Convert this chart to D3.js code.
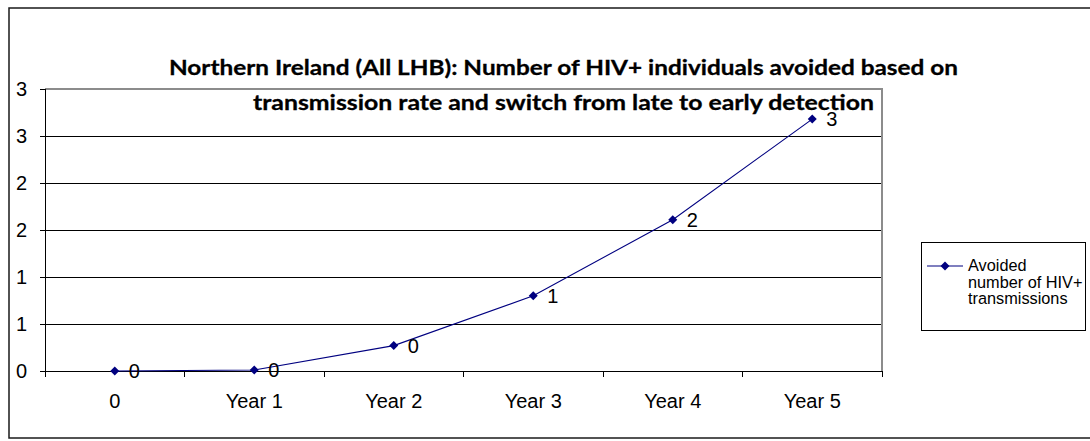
<!DOCTYPE html>
<html>
<head>
<meta charset="utf-8">
<script src="https://cdn.jsdelivr.net/npm/d3@7"></script>
<style>
  body { margin: 0; background: #fff; }
  svg { display: block; }
  .ax text { font-family: "Liberation Sans", Arial, sans-serif; font-size: 20px; fill: #000; }
</style>
</head>
<body>
<div id="chart"></div>
<script>
// ---------- data ----------
const categories = ["0", "Year 1", "Year 2", "Year 3", "Year 4", "Year 5"]
const avoided = [0, 0.01, 0.27, 0.80, 1.61, 2.68]
const yTicks = [0, 0.5, 1, 1.5, 2, 2.5, 3]
const yTickLabels = ["0", "1", "1", "2", "2", "3", "3"]
const titleLines = [
  "Northern Ireland (All LHB): Number of HIV+ individuals avoided based on",
  "transmission rate and switch from late to early detection"
]
const legendLines = ["Avoided", "number of HIV+", "transmissions"]

const width = 1090
const height = 441
const plot = { left: 45, right: 882, top: 89, bottom: 371 }
const navy = "#000080"

const svg = d3.select("#chart")
  .append("svg")
  .attr("width", width)
  .attr("height", height)

// outer chart frame (right side runs off the page)
svg.append("rect")
  .attr("x", 9).attr("y", 8)
  .attr("width", 1090).attr("height", 430)
  .attr("fill", "#fff")
  .attr("stroke", "#1a1a1a")
  .attr("stroke-width", 1.5)

// scales
const x = d3.scaleBand()
  .domain(categories)
  .range([plot.left, plot.right])

const y = d3.scaleLinear()
  .domain([0, 3])
  .range([plot.bottom, plot.top])

const cx = (c) => x(c) + x.bandwidth() / 2

// gridlines
svg.append("g")
  .attr("transform", "translate(" + plot.left + ",0)")
  .call(d3.axisLeft(y).tickValues(yTicks.slice(1, -1)).tickSize(-(plot.right - plot.left)).tickFormat(""))
  .call(g => g.select(".domain").remove())
  .call(g => g.selectAll("line").attr("stroke", "#000").attr("shape-rendering", "crispEdges"))

// plot area border (top and right, grey)
svg.append("path")
  .attr("d", "M" + plot.left + "," + plot.top + "H" + plot.right + "V" + plot.bottom)
  .attr("fill", "none")
  .attr("stroke", "#8c8c8c")
  .attr("stroke-width", 1.2)
  .attr("shape-rendering", "crispEdges")

// y axis
svg.append("g")
  .attr("class", "ax")
  .attr("transform", "translate(" + plot.left + ",0)")
  .call(d3.axisLeft(y).tickValues(yTicks).tickFormat((d, i) => yTickLabels[i]).tickSize(5).tickPadding(13))
  .call(g => g.select(".domain").attr("d", "M0," + plot.top + "V" + (plot.bottom + 6)))
  .call(g => g.selectAll("line, .domain").attr("stroke", "#000").attr("shape-rendering", "crispEdges"))
  .call(g => g.selectAll("text").attr("font-family", null).attr("font-size", null))

// x axis (labels in the middle of each category, ticks between them)
const xAxis = svg.append("g")
  .attr("class", "ax")
  .attr("transform", "translate(0," + plot.bottom + ")")
  .call(d3.axisBottom(x).tickSize(0).tickPadding(23))
  .call(g => g.select(".domain").attr("d", "M" + plot.left + ",0H" + plot.right).attr("stroke", "#000").attr("shape-rendering", "crispEdges"))
  .call(g => g.selectAll("text").attr("font-family", null).attr("font-size", null))

xAxis.selectAll(".sep")
  .data(d3.range(categories.length + 1))
  .enter()
  .append("line")
  .attr("class", "sep")
  .attr("x1", i => plot.left + i * x.step())
  .attr("x2", i => plot.left + i * x.step())
  .attr("y1", 0).attr("y2", 6)
  .attr("stroke", "#000")
  .attr("shape-rendering", "crispEdges")

// series line
const pts = categories.map((c, i) => ({ c: c, v: avoided[i] }))

svg.append("path")
  .datum(pts)
  .attr("fill", "none")
  .attr("stroke", navy)
  .attr("stroke-width", 1.1)
  .attr("d", d3.line().x(d => cx(d.c)).y(d => y(d.v)))

const diamond = (px, py, r) => "M" + px + "," + (py - r) + "L" + (px + r) + "," + py + "L" + px + "," + (py + r) + "L" + (px - r) + "," + py + "Z"

svg.selectAll(".marker")
  .data(pts)
  .enter()
  .append("path")
  .attr("class", "marker")
  .attr("d", d => diamond(cx(d.c), y(d.v), 4.5))
  .attr("fill", navy)

// data labels
svg.selectAll(".dlabel")
  .data(pts)
  .enter()
  .append("text")
  .attr("class", "dlabel")
  .attr("x", d => cx(d.c) + 14)
  .attr("y", d => y(d.v))
  .attr("dy", "0.36em")
  .style("font-family", "'Liberation Sans', Arial, sans-serif")
  .style("font-size", "20px")
  .text(d => d3.format(".0f")(d.v))

// title
svg.selectAll(".title")
  .data(titleLines)
  .enter()
  .append("text")
  .attr("class", "title")
  .attr("x", 563.5)
  .attr("y", (d, i) => 75 + i * 35)
  .attr("text-anchor", "middle")
  .attr("textLength", (d, i) => i === 0 ? 789 : 621)
  .attr("lengthAdjust", "spacingAndGlyphs")
  .style("font-family", "Lato, 'Open Sans', sans-serif")
  .style("font-weight", "bold")
  .style("font-size", "21.5px")
  .style("fill", "#000")
  .style("stroke", "#000")
  .style("stroke-width", 0.3)
  .text(d => d)

// legend
const legend = svg.append("g")

legend.append("rect")
  .attr("x", 921).attr("y", 242)
  .attr("width", 164).attr("height", 88)
  .attr("fill", "#fff")
  .attr("stroke", "#000")
  .attr("shape-rendering", "crispEdges")

legend.append("line")
  .attr("x1", 927).attr("x2", 963)
  .attr("y1", 266).attr("y2", 266)
  .attr("stroke", navy)
  .attr("stroke-width", 1.1)

legend.append("path")
  .attr("d", diamond(945, 266, 4.5))
  .attr("fill", navy)

legend.selectAll(".ltext")
  .data(legendLines)
  .enter()
  .append("text")
  .attr("class", "ltext")
  .attr("x", 968)
  .attr("y", (d, i) => 271 + i * 16.5)
  .style("font-family", "'Liberation Sans', Arial, sans-serif")
  .style("font-size", "16.3px")
  .text(d => d)
</script>
</body>
</html>
